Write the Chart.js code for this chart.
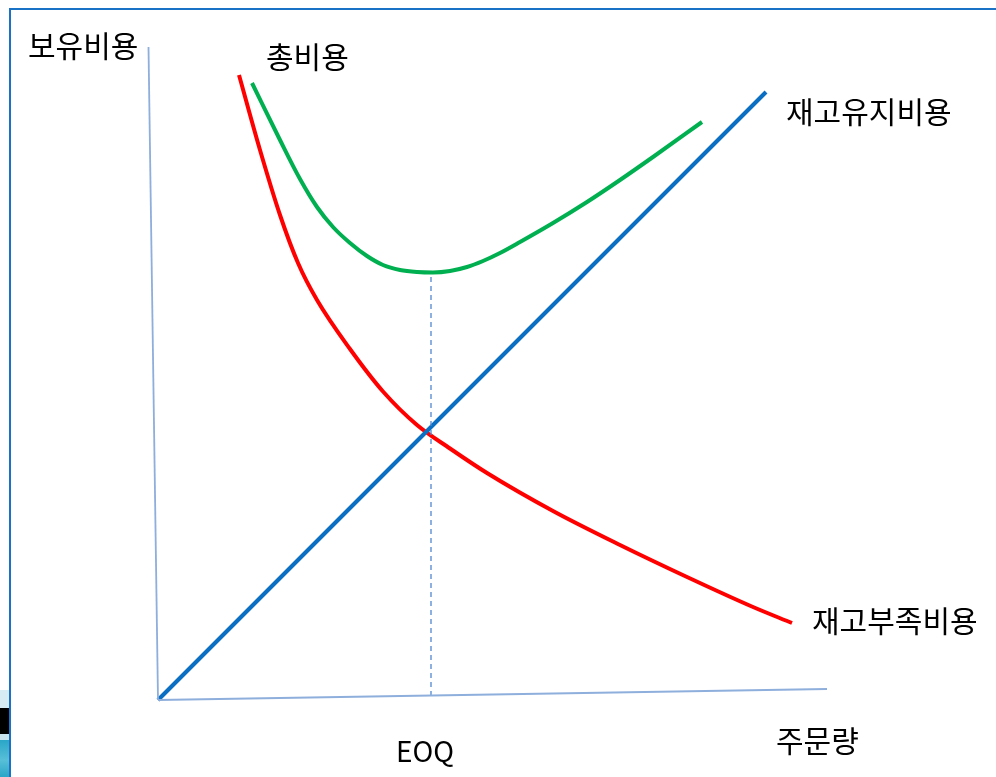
<!DOCTYPE html>
<html>
<head>
<meta charset="utf-8">
<script src="https://cdn.jsdelivr.net/npm/chart.js@4/dist/chart.umd.min.js"></script>
<style>
  html, body { margin: 0; padding: 0; background: #ffffff; }
  #wrap { position: relative; width: 996px; height: 777px; overflow: hidden; }
  #frame { position: absolute; left: 9px; top: 8px; right: -4px; bottom: -4px;
           border-top: 2px solid #1a72c6; border-left: 2px solid #1a72c6; pointer-events: none; }
  #corner { position: absolute; left: 0; top: 690px; width: 9px; height: 87px;
            background: linear-gradient(to bottom, #d6ebf3 0px, #d6ebf3 18px, #000 18px, #000 44px, #c9e4ee 44px, #c9e4ee 50px, #2aa6c7 50px, #58bfd8 70px, #2aa6c7 87px); }
  canvas { position: absolute; left: 0; top: 0; }
</style>
</head>
<body>
<div id="wrap">
  <canvas id="c" width="996" height="777"></canvas>
  <div id="corner"></div>
  <div id="frame"></div>
</div>
<script>
// Order quantity vs. cost (EOQ diagram)
const holdingQ    = [0, 60.8];
const holdingCost = [0, 60.8];

const shortageQ    = [8.1, 10.2, 12.2, 14.0, 15.9, 19.2, 22.5, 25.9, 29.2, 32.9, 39.5, 46.2, 52.9, 59.5, 63.4];
const shortageCost = [62.5, 55.0, 48.5, 43.7, 40.0, 35.1, 30.85, 27.5, 25.15, 22.7, 18.9, 15.5, 12.3, 9.3, 7.7];

const totalQ    = [9.4, 12.2, 14.2, 15.9, 17.5, 19.2, 20.9, 22.5, 24.2, 25.9, 27.5, 29.2, 30.9, 32.5, 34.2, 36.2, 39.5, 42.9, 46.2, 49.5, 54.4];
const totalCost = [61.7, 56.0, 52.1, 49.3, 47.3, 45.7, 44.4, 43.5, 43.0, 42.8, 42.75, 42.9, 43.3, 43.9, 44.7, 45.8, 47.7, 49.8, 52.0, 54.3, 57.8];

const eoqQ    = [27.3, 27.3];
const eoqCost = [0.4, 42.7];

// hand-drawn axes (slightly slanted)
const yAxisQ    = [-0.95, 0];
const yAxisCost = [65.3, 0];
const xAxisQ    = [0, 66.9];
const xAxisCost = [0, 1.1];

const labelTexts = ['보유비용', '총비용', '재고유지비용', '재고부족비용', '주문량', 'EOQ'];

function pts(xs, ys) { return xs.map((x, i) => ({ x: x, y: ys[i] })); }

const labels = [
  { text: labelTexts[0], x: -13.0, y: 65.4, align: 'left',   size: 30 },
  { text: labelTexts[1], x: 10.8,  y: 64.3, align: 'left',   size: 30 },
  { text: labelTexts[2], x: 62.8,  y: 58.8, align: 'left',   size: 30 },
  { text: labelTexts[3], x: 65.4,  y: 7.9,  align: 'left',   size: 30 },
  { text: labelTexts[4], x: 61.8,  y: -4.1, align: 'left',   size: 30 },
  { text: labelTexts[5], x: 26.7,  y: -5.1, align: 'center', size: 28 }
];

const textPlugin = {
  id: 'curveLabels',
  afterDatasetsDraw(chart) {
    const ctx = chart.ctx;
    const xs = chart.scales.x, ys = chart.scales.y;
    ctx.save();
    ctx.fillStyle = '#000000';
    ctx.textBaseline = 'middle';
    labels.forEach(l => {
      ctx.font = l.size + 'px "Noto Sans CJK KR", "Noto Sans", sans-serif';
      ctx.textAlign = l.align;
      ctx.fillText(l.text, xs.getPixelForValue(l.x), ys.getPixelForValue(l.y));
    });
    ctx.restore();
  }
};

const axisStyle = { borderColor: '#8eaedc', borderWidth: 1.8, pointRadius: 0, tension: 0 };

new Chart(document.getElementById('c'), {
  type: 'line',
  data: {
    datasets: [
      Object.assign({ label: 'y축', data: pts(yAxisQ, yAxisCost) }, axisStyle),
      Object.assign({ label: 'x축', data: pts(xAxisQ, xAxisCost) }, axisStyle),
      { label: 'EOQ', data: pts(eoqQ, eoqCost), borderColor: '#4f88d0', borderWidth: 1.3,
        borderDash: [5, 4], pointRadius: 0, tension: 0 },
      { label: '재고유지비용', data: pts(holdingQ, holdingCost), borderColor: '#0a6fc2',
        borderWidth: 4, pointRadius: 0, tension: 0 },
      { label: '재고부족비용', data: pts(shortageQ, shortageCost), borderColor: '#ff0000',
        borderWidth: 4, pointRadius: 0, cubicInterpolationMode: 'monotone' },
      { label: '총비용', data: pts(totalQ, totalCost), borderColor: '#00b050',
        borderWidth: 4, pointRadius: 0, cubicInterpolationMode: 'monotone' }
    ]
  },
  options: {
    responsive: false,
    animation: false,
    layout: { padding: 0 },
    plugins: { legend: { display: false }, tooltip: { enabled: false } },
    scales: {
      x: { type: 'linear', min: -15.8, max: 83.8, display: false },
      y: { type: 'linear', min: -7.7, max: 70.0, display: false }
    },
    elements: { line: { borderCapStyle: 'butt', fill: false } }
  },
  plugins: [textPlugin]
});
</script>
</body>
</html>
